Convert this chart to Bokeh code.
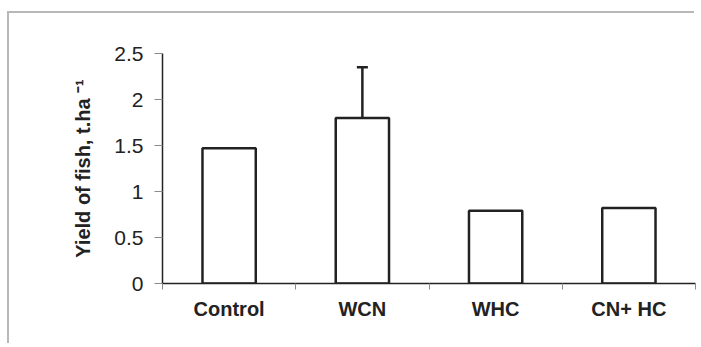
import numpy as np
from bokeh.plotting import figure
from bokeh.layouts import column
from bokeh.models import ColumnDataSource, Range1d, FixedTicker, Whisker, TeeHead
from bokeh.embed import file_html
from bokeh.resources import INLINE

# Data
categories = ["Control", "WCN", "WHC", "CN+ HC"]
yields = [1.47, 1.80, 0.79, 0.82]
errors = [0.0, 0.55, 0.0, 0.0]
y_ticks = [0, 0.5, 1, 1.5, 2, 2.5]
y_tick_labels = ["0", "0.5", "1", "1.5", "2", "2.5"]

x_pos = list(np.arange(len(categories)) + 0.5)
bounds = list(np.arange(len(categories) + 1).astype(float))

src = ColumnDataSource(dict(x=x_pos, y=yields, cat=categories))
err_idx = [i for i, e in enumerate(errors) if e > 0]
err_src = ColumnDataSource(dict(
    x=[x_pos[i] for i in err_idx],
    lower=[yields[i] for i in err_idx],
    upper=[yields[i] + errors[i] for i in err_idx],
))

FONT = "Liberation Sans"
DARK = "#222222"
GREY = "#8a8a8a"
FRAME_GREY = "#b8b8b8"

p = figure(width=687, height=332, output_backend="svg", toolbar_location=None,
           x_range=Range1d(0, len(categories)), y_range=Range1d(0, 2.5),
           min_border_left=153, min_border_right=1, min_border_top=40, min_border_bottom=62)

p.vbar(x="x", top="y", width=0.4, source=src, fill_color="white",
       line_color=DARK, line_width=2.5)

wh = Whisker(base="x", lower="lower", upper="upper", source=err_src,
             dimension="height", line_color=DARK, line_width=2.5,
             upper_head=TeeHead(size=11, line_color=DARK, line_width=2.5),
             lower_head=None)
p.add_layout(wh)

p.grid.visible = False
p.outline_line_color = None
p.background_fill_color = "white"
p.border_fill_color = "white"

# x axis
xa = p.xaxis[0]
xa.ticker = FixedTicker(ticks=x_pos, minor_ticks=bounds)
xa.major_label_overrides = {float(x): c for x, c in zip(x_pos, categories)}
xa.major_tick_out = 0
xa.major_tick_in = 0
xa.minor_tick_out = 6
xa.minor_tick_in = 0
xa.minor_tick_line_color = GREY
xa.axis_line_color = DARK
xa.axis_line_width = 1.5
xa.major_label_text_font = FONT
xa.major_label_text_font_style = "bold"
xa.major_label_text_font_size = "20px"
xa.major_label_text_color = DARK
xa.major_label_standoff = 8

# y axis
ya = p.yaxis[0]
ya.ticker = FixedTicker(ticks=y_ticks)
ya.major_label_overrides = {float(t): l for t, l in zip(y_ticks, y_tick_labels)}
ya.major_tick_out = 8
ya.major_tick_in = 0
ya.minor_tick_line_color = None
ya.major_tick_line_color = GREY
ya.axis_line_color = DARK
ya.axis_line_width = 1.5
ya.major_label_text_font = FONT
ya.major_label_text_font_size = "21px"
ya.major_label_text_color = DARK
ya.major_label_standoff = 11
ya.axis_label = "Yield of fish, t.ha \u207b\u00b9"
ya.axis_label_text_font = FONT
ya.axis_label_text_font_style = "bold"
ya.axis_label_text_font_size = "20px"
ya.axis_label_text_color = DARK
ya.axis_label_standoff = 17

# wrapper carrying the outer chart-area border (top and left edges)
layout = column(p, styles={"transform": "translate(9px, 13px)",
                           "box-shadow": f"-2px -2px 0 0 {FRAME_GREY}"})

open("out.html", "w").write(file_html(layout, INLINE))
